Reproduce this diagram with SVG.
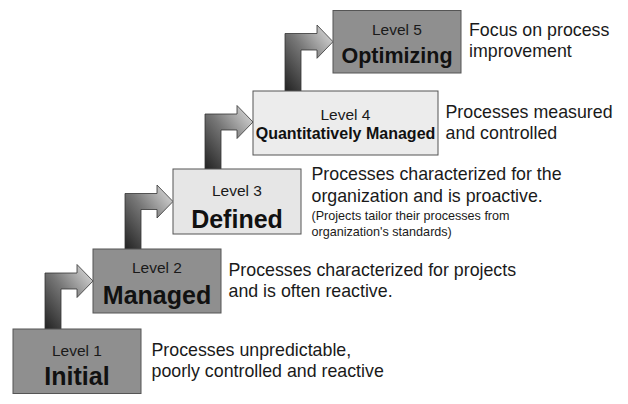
<svg xmlns="http://www.w3.org/2000/svg" width="628" height="404" viewBox="0 0 628 404">
<defs>
<linearGradient id="ag" x1="0" y1="1" x2="1" y2="0">
<stop offset="0" stop-color="#222"/>
<stop offset="0.5" stop-color="#777"/>
<stop offset="1" stop-color="#e4e4e4"/>
</linearGradient>
<style>
.arrow{fill:url(#ag);stroke:#333;stroke-width:0.8;stroke-linejoin:miter}
.box{stroke:#555;stroke-width:1}
.dark{fill:#8f8f8f}
.light{fill:#e6e6e6}
.lvl{font-family:"Liberation Sans",Arial,sans-serif;font-size:15.5px;fill:#1a1a1a;text-anchor:middle}
.name{font-family:"Liberation Sans",Arial,sans-serif;font-weight:bold;font-size:25px;fill:#111;text-anchor:middle}
.desc{font-family:"Liberation Sans",Arial,sans-serif;font-size:17.8px;fill:#1a1a1a}
.small{font-family:"Liberation Sans",Arial,sans-serif;font-size:12.6px;fill:#1a1a1a}
</style>
</defs>
<rect width="628" height="404" fill="#fff"/>
<g id="connectors">
<path class="arrow" d="M45,329 V273 H77 V264.5 L93,281 L77,297.5 V289 H61 V329 Z"/>
<path class="arrow" d="M125,249 V193.5 H157 V185 L173,201.5 L157,218 V209.5 H141 V249 Z"/>
<path class="arrow" d="M205,169 V114 H237 V105.5 L253,122 L237,138.5 V130 H221 V169 Z"/>
<path class="arrow" d="M285,91 V33.5 H317 V25 L333,41.7 L317,58.3 V50 H301 V91 Z"/>
</g>
<g id="level1">
<rect class="box dark" x="13" y="329" width="128" height="64.5"/>
<text class="lvl" x="77" y="355.7">Level 1</text>
<text class="name" x="77" y="385">Initial</text>
<text class="desc" x="151.5" y="356">Processes unpredictable,</text>
<text class="desc" x="151.5" y="377">poorly controlled and reactive</text>
</g>
<g id="level2">
<rect class="box dark" x="93" y="249" width="128" height="64"/>
<text class="lvl" x="157" y="273.3">Level 2</text>
<text class="name" x="157" y="304">Managed</text>
<text class="desc" x="228.5" y="275.5">Processes characterized for projects</text>
<text class="desc" x="228.5" y="297">and is often reactive.</text>
</g>
<g id="level3">
<rect class="box light" x="173" y="169" width="128" height="65"/>
<text class="lvl" x="237" y="195.7">Level 3</text>
<text class="name" x="237" y="227.7">Defined</text>
<text class="desc" x="311.5" y="180">Processes characterized for the</text>
<text class="desc" x="311.5" y="201.5">organization and is proactive.</text>
<text class="small" x="311.5" y="220">(Projects tailor their processes from</text>
<text class="small" x="311.5" y="236">organization's standards)</text>
</g>
<g id="level4">
<rect class="box" x="253" y="91" width="185" height="64" fill="#ececec"/>
<text class="lvl" x="345.5" y="120">Level 4</text>
<text class="name" x="345.5" y="139.3" style="font-size:16px">Quantitatively Managed</text>
<text class="desc" x="445.5" y="118.3">Processes measured</text>
<text class="desc" x="445.5" y="139.3">and controlled</text>
</g>
<g id="level5">
<rect class="box dark" x="333" y="10.5" width="128" height="62.5"/>
<text class="lvl" x="397" y="34.7">Level 5</text>
<text class="name" x="397" y="63" style="font-size:21.5px">Optimizing</text>
<text class="desc" x="469" y="36">Focus on process</text>
<text class="desc" x="469" y="56.7">improvement</text>
</g>
</svg>
